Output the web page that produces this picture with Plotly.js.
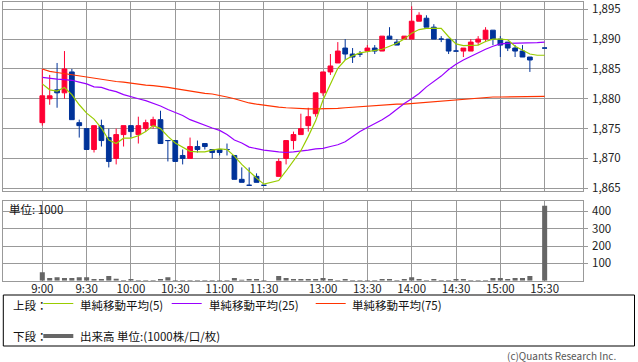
<!DOCTYPE html>
<html>
<head>
<meta charset="utf-8">
<script src="https://cdn.plot.ly/plotly-3.0.1.min.js"></script>
<style>
html,body{margin:0;padding:0;background:#fff;}
#chart{width:638px;height:362px;}
</style>
</head>
<body>
<div id="chart"></div>
<script>
// ---- data ----
const times = [
 "9:00","9:05","9:10","9:15","9:20","9:25","9:30","9:35","9:40","9:45","9:50","9:55",
 "10:00","10:05","10:10","10:15","10:20","10:25","10:30","10:35","10:40","10:45","10:50","10:55",
 "11:00","11:05","11:10","11:15","11:20","11:25","11:30",
 "12:30","12:35","12:40","12:45","12:50","12:55",
 "13:00","13:05","13:10","13:15","13:20","13:25",
 "13:30","13:35","13:40","13:45","13:50","13:55",
 "14:00","14:05","14:10","14:15","14:20","14:25",
 "14:30","14:35","14:40","14:45","14:50","14:55",
 "15:00","15:05","15:10","15:15","15:20","15:25",
 "15:30"];

const open = [
 1876,1880,1881.5,1881,1884.5,1876,1875,1871.5,1875.5,1873.5,1870,1874,
 1875.5,1874,1875,1875.5,1876.5,1873,1873,1870.5,1870,1872,1872.5,1871.5,
 1871.5,1871.5,1870.5,1866.5,1865.5,1867,1865.5,
 1867,1870,1873,1874,1875.5,1877.5,
 1881,1884.5,1886,1888.5,1887.5,1887.5,
 1888,1888.5,1888,1890.5,1889.5,1890,
 1890,1893,1893.5,1892,1890,1890,
 1888,1888,1888,1889.5,1890,1891.5,
 1890,1889.5,1888.5,1888,1887,null,
 1888.5];
const high = [
 1885,1884,1886,1888,1885,1876.5,1875,1875.5,1876.5,1875,1875,1875.5,
 1875.5,1877,1876.5,1877,1878,1873,1873,1871.5,1873.5,1873,1872.5,1871.5,
 1871.5,1872.5,1870.5,1868.5,1868.5,1867.5,1865.5,
 1870,1873,1874.5,1877.5,1878.5,1881,
 1884.5,1887.5,1889.5,1890,1888.5,1888,
 1889,1889,1890.5,1892,1890,1890.5,
 1895.5,1894.5,1894,1892.5,1890.5,1890,
 1890,1888.5,1890,1890.5,1892,1891.5,
 1890.5,1889.5,1889,1889,1887,null,
 1888.5];
const low = [
 1875.5,1879,1878.5,1880,1876.5,1873.5,1871.5,1871,1872,1868.5,1869,1872,
 1873.5,1872.5,1874.5,1875,1872.5,1869.5,1869.5,1869,1870,1871,1871.5,1870,
 1870.5,1870.5,1866.5,1866,1865.5,1866,1865.5,
 1867,1869,1871.5,1874,1874.5,1877,
 1880.5,1884,1886,1886.5,1886,1887,
 1888,1887.5,1888,1890,1889,1890,
 1890,1893,1892,1890,1889.5,1887.5,
 1888,1887,1888,1889,1889.5,1889,
 1887,1888,1887,1887,1884.5,null,
 1888.5];
const close = [
 1880.5,1880.5,1881,1885,1876.5,1875.5,1871.5,1875.5,1873,1869.5,1874,1875.5,
 1874.5,1875.5,1876,1876.5,1872.5,1873,1869.5,1870,1872,1871.5,1872,1871,
 1871,1871.5,1866.5,1866,1865.5,1866,1865.5,
 1869.5,1873,1874,1875,1877,1881,
 1884.5,1885.5,1888,1887.5,1887,1887.5,
 1888.5,1888,1890.5,1890,1889,1890.5,
 1893,1894,1892,1890,1890,1888,
 1888,1888.5,1889.5,1890,1891.5,1890,
 1889,1888.5,1888,1887,1886.5,null,
 1888.5];
const volume = [
 50,16,20,16,16,20,20,10,10,27,12,5,
 10,5,5,5,10,20,5,4,4,4,4,4,
 4,4,16,6,10,10,5,
 27,16,10,10,10,10,
 16,10,5,10,5,5,
 5,5,10,10,5,10,
 20,10,5,10,5,5,
 10,10,5,5,5,16,
 16,10,16,16,27,null,
 432];
const ma5 = [
 1882.5,1881.5,1881.3,1881.9,1880.7,1879.0,1877.6,1876.6,1875.1,1873.1,1872.5,1873.4,
 1873.4,1873.8,1874.5,1875.5,1875.0,1873.7,1872.6,1871.9,1871.2,1871.1,1871.1,1871.4,
 1871.6,1871.5,1870.4,1869.0,1867.8,1866.7,1865.7,
 1866.3,1867.9,1869.7,1871.3,1873.7,1876.3,
 1879.8,1882.6,1885.1,1886.5,1887.2,1887.7,
 1887.9,1888.1,1888.3,1888.8,1889.3,1890.0,
 1891.0,1891.6,1891.8,1891.8,1891.8,1890.4,
 1889.2,1888.9,1888.9,1889.0,1889.6,1890.0,
 1890.0,1889.9,1888.8,1888.1,1887.5,1887.3,
 1887.3];
const ma25 = [
 1883.6,1883.4,1883.3,1883.2,1883.1,1882.8,1882.5,1882.0,1881.9,1881.5,1881.2,1880.7,
 1880.3,1880.0,1879.7,1879.3,1878.8,1878.2,1877.7,1877.2,1876.5,1876.0,1875.5,1875.1,
 1874.7,1874.0,1873.1,1872.6,1871.9,1871.6,1871.4,
 1871.1,1871.0,1871.1,1871.2,1871.4,1871.6,
 1871.7,1872.0,1872.3,1872.8,1873.7,1874.5,
 1875.2,1875.8,1876.5,1877.3,1878.3,1879.2,
 1880.0,1880.9,1882.0,1882.9,1883.8,1884.9,
 1885.8,1886.5,1887.1,1887.8,1888.3,1888.8,
 1889.2,1889.3,1889.3,1889.3,1889.3,1889.4,
 1889.5];
const ma75 = [
 1885.0,1884.6,1884.4,1884.2,1884.0,1883.8,1883.6,1883.4,1883.2,1883.1,1882.9,1882.8,
 1882.6,1882.5,1882.3,1882.2,1882.1,1881.9,1881.7,1881.5,1881.2,1881.0,1880.9,1880.8,
 1880.6,1880.3,1880.0,1879.6,1879.3,1879.1,1878.9,
 1878.6,1878.5,1878.4,1878.3,1878.3,1878.3,
 1878.3,1878.3,1878.4,1878.5,1878.6,1878.6,
 1878.7,1878.8,1878.9,1879.0,1879.1,1879.1,
 1879.2,1879.4,1879.5,1879.6,1879.7,1879.8,
 1879.9,1880.0,1880.0,1880.1,1880.2,1880.3,
 1880.3,1880.3,1880.4,1880.4,1880.4,1880.4,
 1880.4];

const tickLabels = ["9:00","9:30","10:00","10:30","11:00","11:30","13:00","13:30","14:00","14:30","15:00","15:30"];
const priceTicks = [1865,1870,1875,1880,1885,1890,1895];
const volTicks = [100,200,300,400];

// ---- helpers (slot positions on the time axis; lunch break compressed) ----
function slotOf(t){
  const p = t.split(':').map(Number);
  const m = p[0]*60 + p[1];
  return m <= 690 ? (m - 540)/5 : (m - 750)/5 + 32;
}
const xs = times.map(slotOf);

const UP = '#ff0033', DOWN = '#003399';
function pick(cond){
  const o={x:[],open:[],high:[],low:[],close:[]};
  for(let i=0;i<xs.length;i++){
    if(open[i]===null) continue;
    if(cond(open[i],close[i])){
      o.x.push(xs[i]); o.open.push(open[i]); o.high.push(high[i]);
      o.low.push(low[i]); o.close.push(close[i]);
    }
  }
  return o;
}
const upD = pick((o,c)=>c>o);
const dnD = pick((o,c)=>c<=o);

function candle(d,color,name){
  return Object.assign({type:'candlestick', name:name, xaxis:'x', yaxis:'y',
    increasing:{line:{color:color,width:1},fillcolor:color},
    decreasing:{line:{color:color,width:1},fillcolor:color},
    whiskerwidth:0, showlegend:false, hoverinfo:'skip'}, d);
}

const W=638, H=362;
const px = v => v/W, py = v => 1 - v/H;
const FONT = '"Noto Sans CJK JP", "Noto Sans", sans-serif';
const GRID = '#999999';

const traces = [
  {type:'scatter', mode:'lines', x:xs, y:ma75, xaxis:'x', yaxis:'y', line:{color:'#ff3300',width:1.2}, showlegend:false, hoverinfo:'skip'},
  {type:'scatter', mode:'lines', x:xs, y:ma25, xaxis:'x', yaxis:'y', line:{color:'#9900ff',width:1.2}, showlegend:false, hoverinfo:'skip'},
  candle(upD, UP, '陽線'),
  candle(dnD, DOWN, '陰線'),
  {type:'scatter', mode:'lines', x:xs, y:ma5, xaxis:'x', yaxis:'y', line:{color:'#99cc00',width:1.2}, showlegend:false, hoverinfo:'skip'},
  {type:'bar', x:xs, y:volume, xaxis:'x2', yaxis:'y2', width:0.68, marker:{color:'#666666',line:{width:0}}, showlegend:false, hoverinfo:'skip'}
];

const xDom = [px(3.3), px(582.7)];
const xRange = [-5.28, 73.15];
const tickPos = tickLabels.map(slotOf);

const axisCommon = {showgrid:true, gridcolor:GRID, gridwidth:1, zeroline:false,
  showline:true, mirror:true, linecolor:GRID, linewidth:1, fixedrange:true};

const layout = {
  width:W, height:H, margin:{l:0,r:0,t:0,b:0},
  paper_bgcolor:'#fff', plot_bgcolor:'#fff',
  font:{family:FONT, size:11.5, color:'#222'},
  showlegend:false, boxgap:0.36, boxgroupgap:0,
  xaxis: Object.assign({}, axisCommon, {domain:xDom, range:xRange, anchor:'y',
    tickmode:'array', tickvals:tickPos, showticklabels:false, ticks:'',
    rangeslider:{visible:false}}),
  yaxis: Object.assign({}, axisCommon, {domain:[py(190.5), py(1.7)], range:[1864.63,1896.27],
    anchor:'x', side:'right', tickmode:'array', tickvals:priceTicks, tickformat:',d',
    ticks:'outside', ticklen:4, tickcolor:GRID, ticklabelstandoff:2}),
  xaxis2: Object.assign({}, axisCommon, {domain:xDom, range:xRange, anchor:'y2',
    tickmode:'array', tickvals:tickPos, ticktext:tickLabels, ticks:'', ticklabelstandoff:-3}),
  yaxis2: Object.assign({}, axisCommon, {domain:[py(280.8), py(201)], range:[0,460],
    anchor:'x2', side:'right', tickmode:'array', tickvals:volTicks,
    ticks:'outside', ticklen:4, tickcolor:GRID, ticklabelstandoff:2}),
  shapes:[
    {type:'rect', xref:'paper', yref:'paper', x0:px(3.3), x1:px(634.5), y0:py(346), y1:py(295), line:{color:'#000',width:1}},
    {type:'line', xref:'paper', yref:'paper', x0:px(43.3), x1:px(73.3), y0:py(303.5), y1:py(303.5), line:{color:'#99cc00',width:1}},
    {type:'line', xref:'paper', yref:'paper', x0:px(171.7), x1:px(201.7), y0:py(303.5), y1:py(303.5), line:{color:'#9900ff',width:1}},
    {type:'line', xref:'paper', yref:'paper', x0:px(315.7), x1:px(345.7), y0:py(303.5), y1:py(303.5), line:{color:'#ff3300',width:1}},
    {type:'line', xref:'paper', yref:'paper', x0:px(43.3), x1:px(73.3), y0:py(336), y1:py(336), line:{color:'#666666',width:4}}
  ],
  annotations:[
    {text:'単位: 1000', xref:'paper', yref:'paper', x:px(6.5), y:py(209), xanchor:'left', yanchor:'middle', showarrow:false, font:{size:11.5,color:'#111'}},
    {text:'上段：', xref:'paper', yref:'paper', x:px(11), y:py(304.5), xanchor:'left', yanchor:'middle', showarrow:false, font:{size:11.5,color:'#111'}},
    {text:'単純移動平均(5)', xref:'paper', yref:'paper', x:px(78), y:py(304.5), xanchor:'left', yanchor:'middle', showarrow:false, font:{size:11.5,color:'#111'}},
    {text:'単純移動平均(25)', xref:'paper', yref:'paper', x:px(206.5), y:py(304.5), xanchor:'left', yanchor:'middle', showarrow:false, font:{size:11.5,color:'#111'}},
    {text:'単純移動平均(75)', xref:'paper', yref:'paper', x:px(350.5), y:py(304.5), xanchor:'left', yanchor:'middle', showarrow:false, font:{size:11.5,color:'#111'}},
    {text:'下段：', xref:'paper', yref:'paper', x:px(11), y:py(336), xanchor:'left', yanchor:'middle', showarrow:false, font:{size:11.5,color:'#111'}},
    {text:'出来高 単位:(1000株/口/枚)', xref:'paper', yref:'paper', x:px(78), y:py(336), xanchor:'left', yanchor:'middle', showarrow:false, font:{size:11.5,color:'#111'}},
    {text:'(c)Quants Research Inc.', xref:'paper', yref:'paper', x:px(618), y:py(355), xanchor:'right', yanchor:'middle', showarrow:false, font:{size:10,color:'#555'}}
  ]
};

Plotly.newPlot('chart', traces, layout, {staticPlot:true, displayModeBar:false});
</script>
</body>
</html>
